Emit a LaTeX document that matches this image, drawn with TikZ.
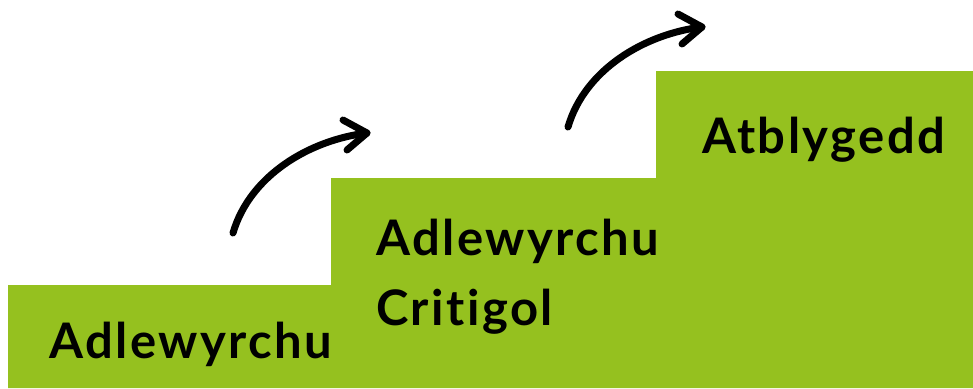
\documentclass[tikz,border=0pt]{standalone}
\usepackage{fontspec}
\setmainfont{Lato}[Ligatures=NoCommon, LetterSpace=5]
\definecolor{stepgreen}{HTML}{95C11F}
\tikzset{
  stepfill/.style={fill=stepgreen, draw=none},
  lbl/.style={anchor=base west, inner sep=0pt, font=\fontsize{49bp}{70bp}\selectfont\bfseries, text=black},
  curvearrow/.style={line width=7bp, line cap=round, line join=round, draw=black}
}
\begin{document}
\begin{tikzpicture}[x=1bp,y=-1bp]
\useasboundingbox (0,0) rectangle (973,388);
% steps
\fill[stepfill] (8,388) -- (8,285) -- (331,285) -- (331,178) -- (656,178) -- (656,71) -- (973,71) -- (973,388) -- cycle;
% labels
\node[lbl] (t1) at (49,358) {Adlewyrchu};
\node[lbl] (t2) at (376,255) {Adlewyrchu};
\node[lbl] (t3) at (376,325) {Critigol};
\node[lbl] (t4) at (702,153) {Atblygedd};
% arrow 1
\coordinate (a1s) at (233,233);
\coordinate (a1t) at (367,133);
\coordinate (a1u) at (343,120);
\coordinate (a1l) at (347,150);
\draw[curvearrow] (a1s) .. controls (250,175) and (310,140) .. (a1t);
\draw[curvearrow] (a1u) -- (a1t) -- (a1l);
% arrow 2
\coordinate (a2s) at (568,127);
\coordinate (a2t) at (702,27);
\coordinate (a2u) at (678,14);
\coordinate (a2l) at (682,44);
\draw[curvearrow] (a2s) .. controls (585,69) and (645,34) .. (a2t);
\draw[curvearrow] (a2u) -- (a2t) -- (a2l);
\end{tikzpicture}
\end{document}
